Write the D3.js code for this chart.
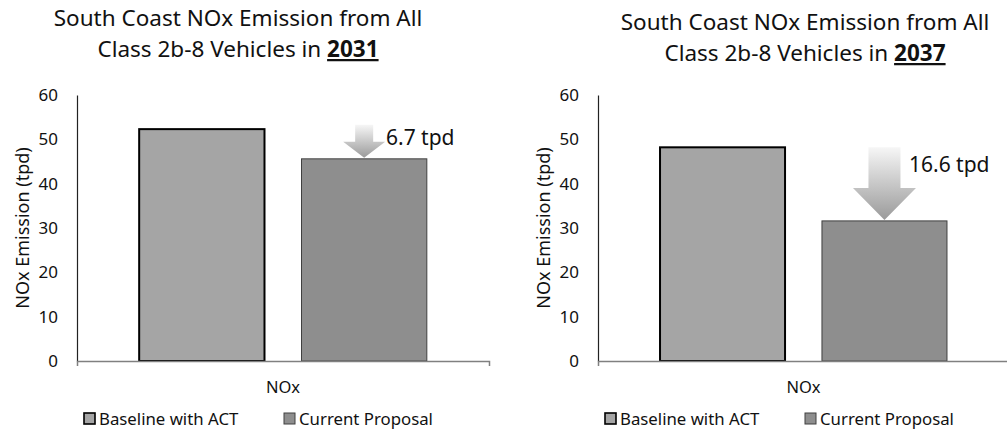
<!DOCTYPE html>
<meta charset="utf-8">
<script src="https://d3js.org/d3.v7.min.js"></script>
<style>
  body { margin: 0; background: #fff; }
  text { font-family: "Noto Sans", "Open Sans", sans-serif; fill: #111; }
</style>
<div id="my_dataviz"></div>
<script>

// chart data
var categories = ["NOx"];
var series = ["Baseline with ACT", "Current Proposal"];
var years = ["2031", "2037"];
var baseline = [52.3, 48.2];
var proposal = [45.6, 31.6];
var reductions = ["6.7 tpd", "16.6 tpd"];
var yTicks = [0, 10, 20, 30, 40, 50, 60];

var W = 1007, H = 431;

var svg = d3.select("#my_dataviz")
  .append("svg")
    .attr("width", W)
    .attr("height", H);

var defs = svg.append("defs");
var grad = defs.append("linearGradient")
    .attr("id", "arrowGrad")
    .attr("x1", 0).attr("y1", 0).attr("x2", 0).attr("y2", 1);
grad.append("stop").attr("offset", "0%").attr("stop-color", "#f6f6f6");
grad.append("stop").attr("offset", "100%").attr("stop-color", "#9a9a9a");

var color = d3.scaleOrdinal().domain(series).range(["#a5a5a5", "#8e8e8e"]);

// layout of each panel
var panels = [
  {x0: 77, x1: 489, titleX: 238, titleY: 26, shaft: 18, head: 42, headH: 16, labX: 386, labDy: 20},
  {x0: 598, x1: 1009, titleX: 805, titleY: 30, shaft: 32, head: 63, headH: 32, labX: 909, labDy: 25}
];
var plotTop = 95, plotBottom = 361;

panels.forEach(function(p, i) {
  var g = svg.append("g");

  // title
  var t = g.append("text")
    .attr("text-anchor", "middle")
    .attr("x", p.titleX)
    .attr("y", p.titleY)
    .style("font-size", "22.5px");
  t.append("tspan").attr("x", p.titleX).text("South Coast NOx Emission from All");
  var l2 = t.append("tspan").attr("x", p.titleX).attr("dy", 31).text("Class 2b-8 Vehicles in ");
  l2.append("tspan").style("font-weight", "bold").style("text-decoration", "underline").text(years[i]);

  var y = d3.scaleLinear().domain([0, 60]).range([plotBottom, plotTop]);
  var x = d3.scaleBand().domain(categories).range([p.x0, p.x1]);
  var xs = d3.scaleBand().domain(series).range([0, x.bandwidth()])
    .paddingInner(0.228).paddingOuter(0.383);

  var vals = [baseline[i], proposal[i]];

  // bars
  g.append("g")
    .selectAll("rect")
    .data(series.map(function(s, k) { return {key: s, value: vals[k]}; }))
    .enter().append("rect")
      .attr("x", function(d) { return x("NOx") + xs(d.key); })
      .attr("y", function(d) { return y(d.value); })
      .attr("width", xs.bandwidth())
      .attr("height", function(d) { return y(0) - y(d.value); })
      .attr("fill", function(d) { return color(d.key); })
      .attr("stroke", function(d, k) { return k == 0 ? "#000" : "#404040"; })
      .attr("stroke-width", function(d, k) { return k == 0 ? 2 : 1; });

  // y axis
  var ya = g.append("g")
    .attr("transform", "translate(" + p.x0 + ",0)")
    .call(d3.axisLeft(y).tickValues(yTicks).tickSize(0).tickPadding(19));
  ya.select(".domain").attr("stroke", "#222").attr("stroke-width", 1.2);
  ya.selectAll("text").style("font-size", "17px").attr("fill", "#111").style("font-family", "'Noto Sans', sans-serif");

  // x axis
  var xa = g.append("g")
    .attr("transform", "translate(0," + plotBottom + ")")
    .call(d3.axisBottom(x).tickSizeInner(0).tickSizeOuter(5).tickPadding(20));
  xa.select(".domain").attr("stroke", "#808080").attr("stroke-width", 1.5);
  xa.selectAll("text").style("font-size", "16.5px").attr("fill", "#111").style("font-family", "'Noto Sans', sans-serif");

  // y axis title
  g.append("text")
    .attr("text-anchor", "middle")
    .attr("transform", "translate(" + (p.x0 - 48) + "," + ((plotTop + plotBottom) / 2) + ") rotate(-90)")
    .style("font-size", "18px")
    .text("NOx Emission (tpd)");

  // reduction arrow
  var cx = x("NOx") + xs(series[1]) + xs.bandwidth() / 2;
  var tip = y(vals[1]) - 1;
  var ytop = Math.min(y(vals[0]), y(vals[1]) - 34);
  var hs = p.shaft / 2, hh = p.head / 2;
  g.append("path")
    .attr("d", "M" + (cx - hs) + "," + ytop + "H" + (cx + hs) + "V" + (tip - p.headH) +
      "H" + (cx + hh) + "L" + cx + "," + tip + "L" + (cx - hh) + "," + (tip - p.headH) +
      "H" + (cx - hs) + "Z")
    .attr("fill", "url(#arrowGrad)");
  g.append("text")
    .attr("x", p.labX)
    .attr("y", ytop + p.labDy)
    .style("font-size", "21px")
    .text(reductions[i]);

  // legend
  var lx = [p.x0 + 7, p.x0 + 207];
  var leg = g.selectAll(".legend")
    .data(series)
    .enter().append("g")
    .attr("class", "legend")
    .attr("transform", function(d, k) { return "translate(" + lx[k] + ",413)"; });
  leg.append("rect")
    .attr("width", 11).attr("height", 11)
    .attr("fill", function(d) { return color(d); })
    .attr("stroke", function(d, k) { return k == 0 ? "#000" : "#404040"; })
    .attr("stroke-width", function(d, k) { return k == 0 ? 1.6 : 1; });
  leg.append("text")
    .attr("x", 15).attr("y", 11.5)
    .style("font-size", "16.8px")
    .text(function(d) { return d; });
});

</script>
